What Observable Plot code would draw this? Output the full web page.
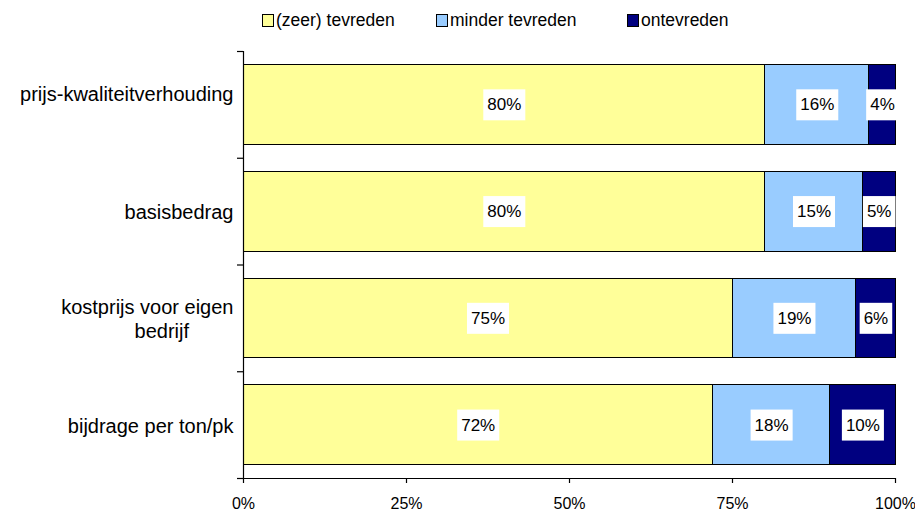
<!DOCTYPE html>
<html><head><meta charset="utf-8">
<script src="https://cdn.jsdelivr.net/npm/d3@7"></script>
<script src="https://cdn.jsdelivr.net/npm/@observablehq/plot@0.6"></script>
<style>
body{margin:0;background:#fff;font-family:"Liberation Sans",Arial,sans-serif;}
#legend{position:relative;height:40px;width:915px;}
.item{position:absolute;top:10px;display:flex;align-items:center;font-size:17.5px;color:#000;white-space:nowrap;}
.sw{width:10px;height:11px;border:1px solid #000;margin-right:2px;}
</style></head><body>
<div id="legend"></div><div id="chart"></div>
<script>
const categories = ["prijs-kwaliteitverhouding", "basisbedrag", "kostprijs voor eigen bedrijf", "bijdrage per ton/pk"];
const categoryLabels = ["prijs-kwaliteitverhouding\n", "basisbedrag", "kostprijs voor eigen\nbedrijf\u00a0\u00a0\u00a0\u00a0\u00a0\u00a0\u00a0\u00a0", "bijdrage per ton/pk"];
const series = ["(zeer) tevreden", "minder tevreden", "ontevreden"];
const zeerTevreden = [80, 80, 75, 72];
const minderTevreden = [16, 15, 19, 18];
const ontevreden = [4, 5, 6, 10];
const colors = ["#FFFF99", "#99CCFF", "#000080"];
const xTicks = [0, 25, 50, 75, 100];
const legendX = [262, 436, 627];

const values = [zeerTevreden, minderTevreden, ontevreden];
const rows = [];
categories.forEach((c, i) => {
  let cum = 0;
  series.forEach((s, j) => {
    const v = values[j][i];
    rows.push({cat: c, i, series: s, v, x1: cum, x2: cum + v});
    cum += v;
  });
});
const cats = categories.map((c, i) => ({cat: c, i, label: categoryLabels[i]}));

// legend
const leg = document.getElementById("legend");
series.forEach((s, j) => {
  const d = document.createElement("div");
  d.className = "item";
  d.style.left = legendX[j] + "px";
  d.innerHTML = `<span class="sw" style="background:${colors[j]}"></span><span>${s}</span>`;
  leg.appendChild(d);
});

const chart = Plot.plot({
  width: 915,
  height: 473,
  marginLeft: 243,
  marginRight: 20,
  marginTop: 11,
  marginBottom: 35,
  style: {fontFamily: "'Liberation Sans', Arial, sans-serif", fontSize: "16px", color: "#000", background: "#fff"},
  x: {domain: [0, 100], label: null},
  y: {domain: [0, categories.length], reverse: true, label: null},
  color: {domain: series, range: colors},
  marks: [
    Plot.rect(rows, {x1: "x1", x2: "x2", y1: "i", y2: d => d.i + 1, fill: "series", stroke: "#000", strokeWidth: 1, insetTop: 13.5, insetBottom: 13.5, shapeRendering: "crispEdges"}),
    Plot.ruleX([0], {stroke: "#000", strokeWidth: 1.2}),
    Plot.ruleY([categories.length], {stroke: "#000", strokeWidth: 1.2}),
    Plot.axisY({ticks: d3.range(categories.length + 1), tickFormat: () => "", tickSize: 6, stroke: "#000", strokeWidth: 1.2, label: null}),
    Plot.axisX({ticks: xTicks, tickFormat: d => d + "%", tickSize: 5, tickPadding: 14, stroke: "#000", strokeWidth: 1.2, fontSize: 16, label: null}),
    Plot.text(cats, {y: d => d.i + 0.5, text: "label", frameAnchor: "left", textAnchor: "end", dx: -10, lineHeight: 1.2, fontSize: 20, fill: "#000"}),
    Plot.text(rows, {x: d => (d.x1 + d.x2) / 2, y: d => d.i + 0.5, text: d => d.v + "%", fontSize: 17, fill: "#000", ariaDescription: "pct-labels"})
  ]
});
document.getElementById("chart").appendChild(chart);

// white boxes behind the value labels
chart.querySelectorAll('g[aria-description="pct-labels"] text').forEach(t => {
  const bb = t.getBBox();
  const r = document.createElementNS("http://www.w3.org/2000/svg", "rect");
  const px = 4, py = 6;
  r.setAttribute("x", bb.x - px);
  r.setAttribute("y", bb.y - py);
  r.setAttribute("width", bb.width + 2 * px);
  r.setAttribute("height", bb.height + 2 * py);
  r.setAttribute("fill", "#fff");
  if (t.getAttribute("transform")) r.setAttribute("transform", t.getAttribute("transform"));
  t.parentNode.insertBefore(r, t);
});
</script>
</body></html>
